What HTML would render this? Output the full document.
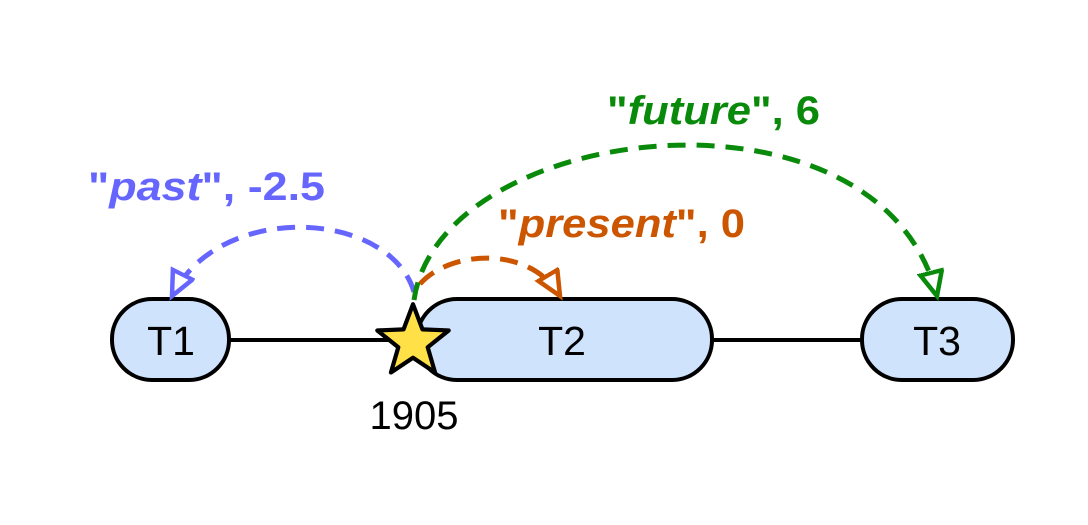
<!DOCTYPE html>
<html><head><meta charset="utf-8"><style>
html,body{margin:0;padding:0;background:#fff;width:1088px;height:525px;overflow:hidden}
text{font-family:"Liberation Sans","DejaVu Sans",sans-serif}
</style></head><body>
<svg width="1088" height="525" viewBox="0 0 1088 525">
<defs>
<marker id="mp" markerUnits="userSpaceOnUse" markerWidth="34" markerHeight="34" refX="26" refY="13" orient="auto"><path d="M2,2 L26,13 L2,24 Z" fill="#fff" stroke="#6666ff" stroke-width="4.5"/></marker>
<marker id="mo" markerUnits="userSpaceOnUse" markerWidth="34" markerHeight="34" refX="26" refY="13" orient="auto"><path d="M2,2 L26,13 L2,24 Z" fill="#fff" stroke="#cc5500" stroke-width="4.5"/></marker>
<marker id="mg" markerUnits="userSpaceOnUse" markerWidth="34" markerHeight="34" refX="26" refY="13" orient="auto"><path d="M2,2 L26,13 L2,24 Z" fill="#fff" stroke="#0a8a0a" stroke-width="4.5"/></marker>
</defs>
<line x1="229" y1="340" x2="420" y2="340" stroke="#000" stroke-width="4"/>
<line x1="712" y1="340" x2="862" y2="340" stroke="#000" stroke-width="4"/>
<g>
<rect x="112" y="299" width="117" height="81" rx="40" fill="#cfe3fc" stroke="#000" stroke-width="4"/>
<text x="171" y="355" font-size="41" text-anchor="middle">T1</text></g>
<g>
<rect x="417" y="299" width="295" height="81" rx="40" fill="#cfe3fc" stroke="#000" stroke-width="4"/>
<text x="562" y="355" font-size="41" text-anchor="middle">T2</text></g>
<g>
<rect x="862" y="299" width="151" height="81" rx="40" fill="#cfe3fc" stroke="#000" stroke-width="4"/>
<text x="937" y="355" font-size="41" text-anchor="middle">T3</text></g>
<path d="M414,292 C390,210 220,200 172,296" fill="none" stroke="#6666ff" stroke-width="5" stroke-dasharray="18,11" marker-end="url(#mp)"/>
<path d="M420,284 C450,250 530,245 560,296" fill="none" stroke="#cc5500" stroke-width="5" stroke-dasharray="18,11" marker-end="url(#mo)"/>
<path d="M414,300 C440,120 880,70 937,296" fill="none" stroke="#0a8a0a" stroke-width="5" stroke-dasharray="18,11" marker-end="url(#mg)"/>
<path transform="translate(413,342) scale(1.05)" d="M0,-36 L9,-12 L34,-11 L14,5 L21,29 L0,15 L-21,29 L-14,5 L-34,-11 L-9,-12 Z" fill="#ffe047" stroke="#000" stroke-width="4" stroke-linejoin="round"/>
<text x="414" y="429" font-size="40" text-anchor="middle">1905</text>
<text x="88" y="200" font-size="40" font-weight="bold" fill="#6666ff" textLength="237" lengthAdjust="spacingAndGlyphs">"<tspan font-style="italic">past</tspan>", -2.5</text>
<text x="498" y="237" font-size="40" font-weight="bold" fill="#cc5500" textLength="247" lengthAdjust="spacingAndGlyphs">"<tspan font-style="italic">present</tspan>", 0</text>
<text x="607" y="124" font-size="40" font-weight="bold" fill="#0a8a0a" textLength="213" lengthAdjust="spacingAndGlyphs">"<tspan font-style="italic">future</tspan>", 6</text>
</svg>
</body></html>
